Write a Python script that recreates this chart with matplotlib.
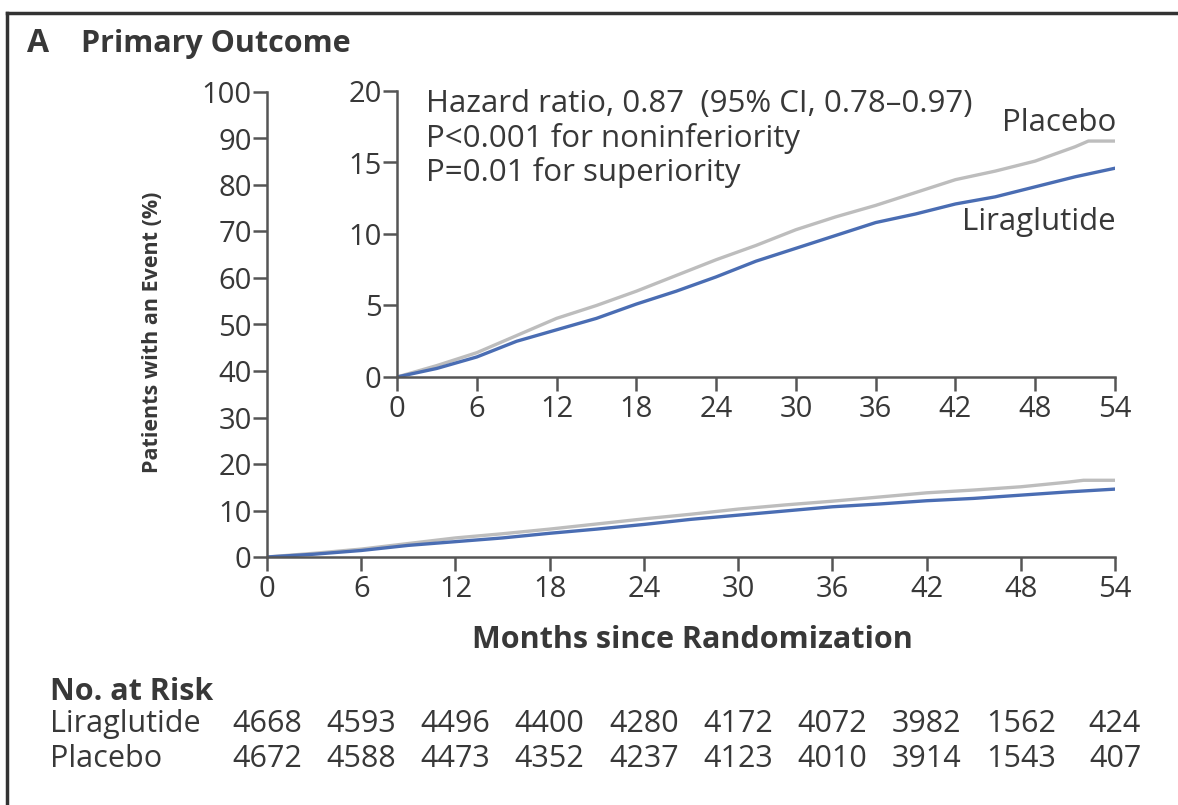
import numpy as np
import matplotlib.pyplot as plt
from matplotlib.lines import Line2D

# Kaplan-Meier style cumulative incidence (percent)
months = [0, 3, 6, 9, 12, 15, 18, 21, 24, 27, 30, 33, 36, 39, 42, 45, 48, 51, 52, 54]
placebo = [0, 0.8, 1.7, 2.9, 4.1, 5.0, 6.0, 7.1, 8.2, 9.2, 10.3, 11.2, 12.0,
           12.9, 13.8, 14.4, 15.1, 16.1, 16.5, 16.5]
liraglutide = [0, 0.6, 1.4, 2.5, 3.3, 4.1, 5.1, 6.0, 7.0, 8.1, 9.0, 9.9, 10.8,
               11.4, 12.1, 12.6, 13.3, 14.0, 14.2, 14.6]

risk_months = [0, 6, 12, 18, 24, 30, 36, 42, 48, 54]
risk_lira = [4668, 4593, 4496, 4400, 4280, 4172, 4072, 3982, 1562, 424]
risk_plac = [4672, 4588, 4473, 4352, 4237, 4123, 4010, 3914, 1543, 407]

main_yticks = list(range(0, 101, 10))
inset_yticks = [0, 5, 10, 15, 20]
xticks = list(range(0, 55, 6))

txt = '#383838'
axc = '#555555'
gray = '#bdbdbd'
blue = '#4a6db3'

plt.rcParams['font.family'] = ['Open Sans', 'DejaVu Sans']
plt.rcParams['text.color'] = txt

W, H = 1178, 805
fig = plt.figure(figsize=(W / 100, H / 100), dpi=100)


def fx(px):
    return px / W


def fy(py):
    return 1 - py / H


def style_axes(ax):
    for s in ['top', 'right']:
        ax.spines[s].set_visible(False)
    for s in ['left', 'bottom']:
        ax.spines[s].set_color(axc)
        ax.spines[s].set_linewidth(1.8)
    ax.tick_params(axis='both', colors=axc, labelcolor=txt, labelsize=21,
                   width=1.8, length=10, direction='out')
    ax.tick_params(axis='x', pad=3)
    ax.tick_params(axis='y', pad=1)
    ax.set_facecolor('none')


# main axes
ax = fig.add_axes([fx(267), fy(557), fx(1115) - fx(267), fy(92) - fy(557)])
ax.plot(months, placebo, color=gray, lw=2.4)
ax.plot(months, liraglutide, color=blue, lw=2.4)
ax.set_xlim(0, 54)
ax.set_ylim(0, 100)
ax.set_xticks(xticks)
ax.set_yticks(main_yticks)
style_axes(ax)

fig.text(fx(153), fy(332), 'Patients with an Event (%)', fontsize=15.5,
         fontweight='bold', rotation=90, ha='center', va='center')
fig.text(fx(692), fy(640), 'Months since Randomization', fontsize=22,
         fontweight='bold', ha='center', va='center')

# inset axes
ins = fig.add_axes([fx(397), fy(377), fx(1115) - fx(397), fy(91) - fy(377)])
ins.plot(months, placebo, color=gray, lw=2.4)
ins.plot(months, liraglutide, color=blue, lw=2.4)
ins.set_xlim(0, 54)
ins.set_ylim(0, 20)
ins.set_xticks(xticks)
ins.set_yticks(inset_yticks)
style_axes(ins)

fig.text(fx(426), fy(104), 'Hazard ratio, 0.87  (95% CI, 0.78\u20130.97)',
         fontsize=22.5, va='center', ha='left')
fig.text(fx(426), fy(139), 'P<0.001 for noninferiority', fontsize=22.5,
         va='center', ha='left')
fig.text(fx(426), fy(173), 'P=0.01 for superiority', fontsize=22.5,
         va='center', ha='left')
fig.text(fx(1116), fy(123), 'Placebo', fontsize=22.5, ha='right', va='center')
fig.text(fx(1116), fy(222), 'Liraglutide', fontsize=22.5, ha='right',
         va='center')

# panel title
fig.text(fx(27), fy(44), 'A', fontsize=23, fontweight='bold', va='center')
fig.text(fx(81), fy(44), 'Primary Outcome', fontsize=22, fontweight='bold',
         va='center')

# number at risk table
fig.text(fx(50), fy(692), 'No. at Risk', fontsize=22, fontweight='bold',
         va='center')
fig.text(fx(50), fy(724), 'Liraglutide', fontsize=22, va='center')
fig.text(fx(50), fy(759), 'Placebo', fontsize=22, va='center')
tr = ax.get_xaxis_transform()
row1 = (fy(724) - fy(557)) / (fy(92) - fy(557))
row2 = (fy(759) - fy(557)) / (fy(92) - fy(557))
for m, a, b in zip(risk_months, risk_lira, risk_plac):
    ax.text(m, row1, str(a), transform=tr, ha='center', va='center',
            fontsize=22, clip_on=False)
    ax.text(m, row2, str(b), transform=tr, ha='center', va='center',
            fontsize=22, clip_on=False)

# partial frame around the panel (cropped figure)
fig.add_artist(Line2D([fx(7), 1], [fy(13), fy(13)], color='#333333', lw=2.5))
fig.add_artist(Line2D([fx(7), fx(7)], [fy(13), 0], color='#333333', lw=2.5))

fig.savefig('out.png', dpi=100, facecolor='white')
